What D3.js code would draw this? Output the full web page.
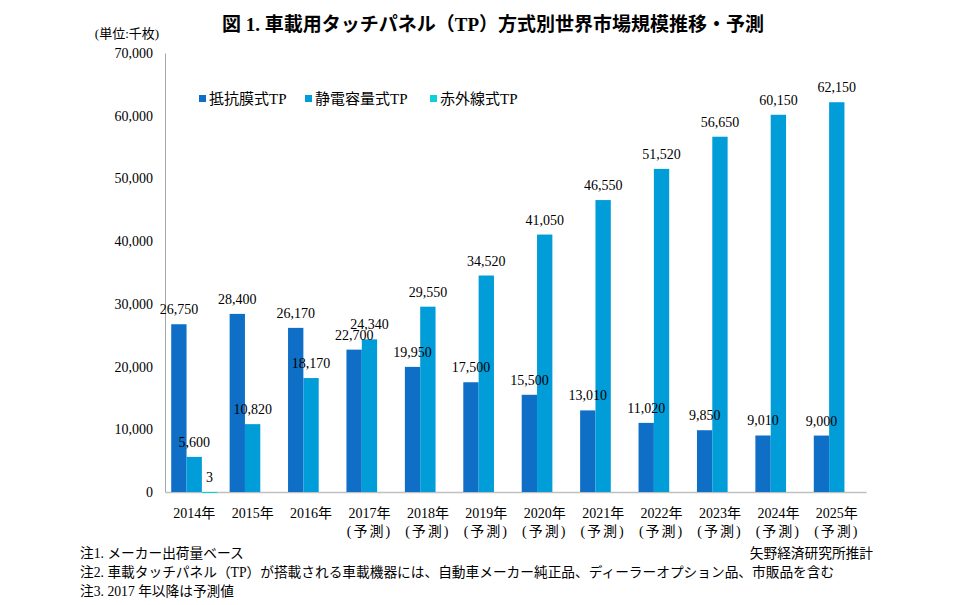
<!DOCTYPE html>
<html>
<head>
<meta charset="utf-8">
<script src="https://cdn.jsdelivr.net/npm/d3@7"></script>
<style>
  body { margin: 0; background: #fff; }
  text { font-family: "Liberation Serif", "Noto Sans CJK JP", serif; fill: #000; }
</style>
</head>
<body>
<script>
let width = 968, height = 605;

// data
let years = ["2014年","2015年","2016年","2017年","2018年","2019年","2020年","2021年","2022年","2023年","2024年","2025年"];
let forecast = [false,false,false,true,true,true,true,true,true,true,true,true];
let seriesNames = ["抵抗膜式TP","静電容量式TP","赤外線式TP"];
let resistive = [26750,28400,26170,22700,19950,17500,15500,13010,11020,9850,9010,9000];
let capacitive = [5600,10820,18170,24340,29550,34520,41050,46550,51520,56650,60150,62150];
let infrared = [3,null,null,null,null,null,null,null,null,null,null,null];
let yTicks = [0,10000,20000,30000,40000,50000,60000,70000];
let colors = ["#0F6FC6","#009DD9","#0BD0D9"];

let allSeries = [resistive, capacitive, infrared];

let svg = d3.select("body").append("svg")
    .attr("width", width)
    .attr("height", height);

let plotL = 165, plotR = 866, plotT = 53, plotB = 492;

let x0 = d3.scaleBand().domain(years).range([plotL, plotR]).padding(0);
let groupW = 46;
let x1 = d3.scaleBand().domain(d3.range(3)).range([0, groupW]).padding(0);
let y = d3.scaleLinear().domain([0, 70000]).range([plotB, plotT]);

// title
svg.append("text")
    .attr("x", 493).attr("y", 31)
    .attr("text-anchor", "middle")
    .attr("font-size", 19).attr("font-weight", "bold")
    .text("図 1. 車載用タッチパネル（TP）方式別世界市場規模推移・予測");

svg.append("text")
    .attr("x", 127).attr("y", 38)
    .attr("text-anchor", "middle")
    .attr("font-size", 13)
    .text("(単位:千枚)");

// y axis
let yAxis = d3.axisLeft(y).tickValues(yTicks).tickSize(0).tickPadding(12)
    .tickFormat(d3.format(","));
let gy = svg.append("g").attr("transform", `translate(${plotL},0)`).call(yAxis);
gy.select(".domain").attr("stroke", "#a6a6a6");
gy.selectAll("text").attr("font-size", 14)
    .style("font-family", "'Liberation Serif', serif");

// x axis
let gx = svg.append("g").attr("transform", `translate(0,${plotB})`)
    .call(d3.axisBottom(x0).tickSize(0).tickFormat(""));
gx.select(".domain").attr("stroke", "#c0c0c0").attr("stroke-width", 1.5);

let xl = svg.append("g");
years.forEach((yr, i) => {
  let cx = x0(yr) + x0.bandwidth() / 2;
  xl.append("text").attr("x", cx).attr("y", 518)
    .attr("text-anchor", "middle").attr("font-size", 14).text(yr);
  if (forecast[i]) {
    xl.append("text").attr("x", cx).attr("y", 536)
      .attr("text-anchor", "middle").attr("font-size", 14)
      .attr("letter-spacing", 2)
      .text("(予測)");
  }
});

// bars
let off = (x0.bandwidth() - groupW) / 2;
let labels = [];
allSeries.forEach((vals, s) => {
  let pts = years.map((yr, i) => ({ yr: yr, v: vals[i], s: s })).filter(d => d.v != null);
  labels = labels.concat(pts);
  svg.append("g").selectAll("rect").data(pts).enter().append("rect")
    .attr("x", d => x0(d.yr) + off + x1(s))
    .attr("y", d => y(d.v))
    .attr("width", x1.bandwidth())
    .attr("height", d => Math.max(1, plotB - y(d.v)))
    .attr("fill", colors[s]);
});

// value labels on top of everything
svg.append("g").selectAll("text").data(labels).enter().append("text")
    .attr("x", d => x0(d.yr) + off + x1(d.s) + x1.bandwidth() / 2)
    .attr("y", d => y(d.v) - 10)
    .attr("text-anchor", "middle")
    .attr("font-size", 14)
    .text(d => d3.format(",")(d.v));

// legend
let lx = [199, 305, 430];
seriesNames.forEach((n, i) => {
  svg.append("rect").attr("x", lx[i]).attr("y", 95).attr("width", 7).attr("height", 7)
    .attr("fill", colors[i]);
  svg.append("text").attr("x", lx[i] + 10).attr("y", 104)
    .attr("font-size", 15).text(n);
});

// notes
let notes = ["注1. メーカー出荷量ベース",
  "注2. 車載タッチパネル（TP）が搭載される車載機器には、自動車メーカー純正品、ディーラーオプション品、市販品を含む",
  "注3. 2017 年以降は予測値"];
notes.forEach((t, i) => {
  svg.append("text").attr("x", 80).attr("y", 558 + i * 19)
    .attr("font-size", 13.7).text(t);
});
svg.append("text").attr("x", 873).attr("y", 558)
  .attr("text-anchor", "end").attr("font-size", 13.7).text("矢野経済研究所推計");
</script>
</body>
</html>
